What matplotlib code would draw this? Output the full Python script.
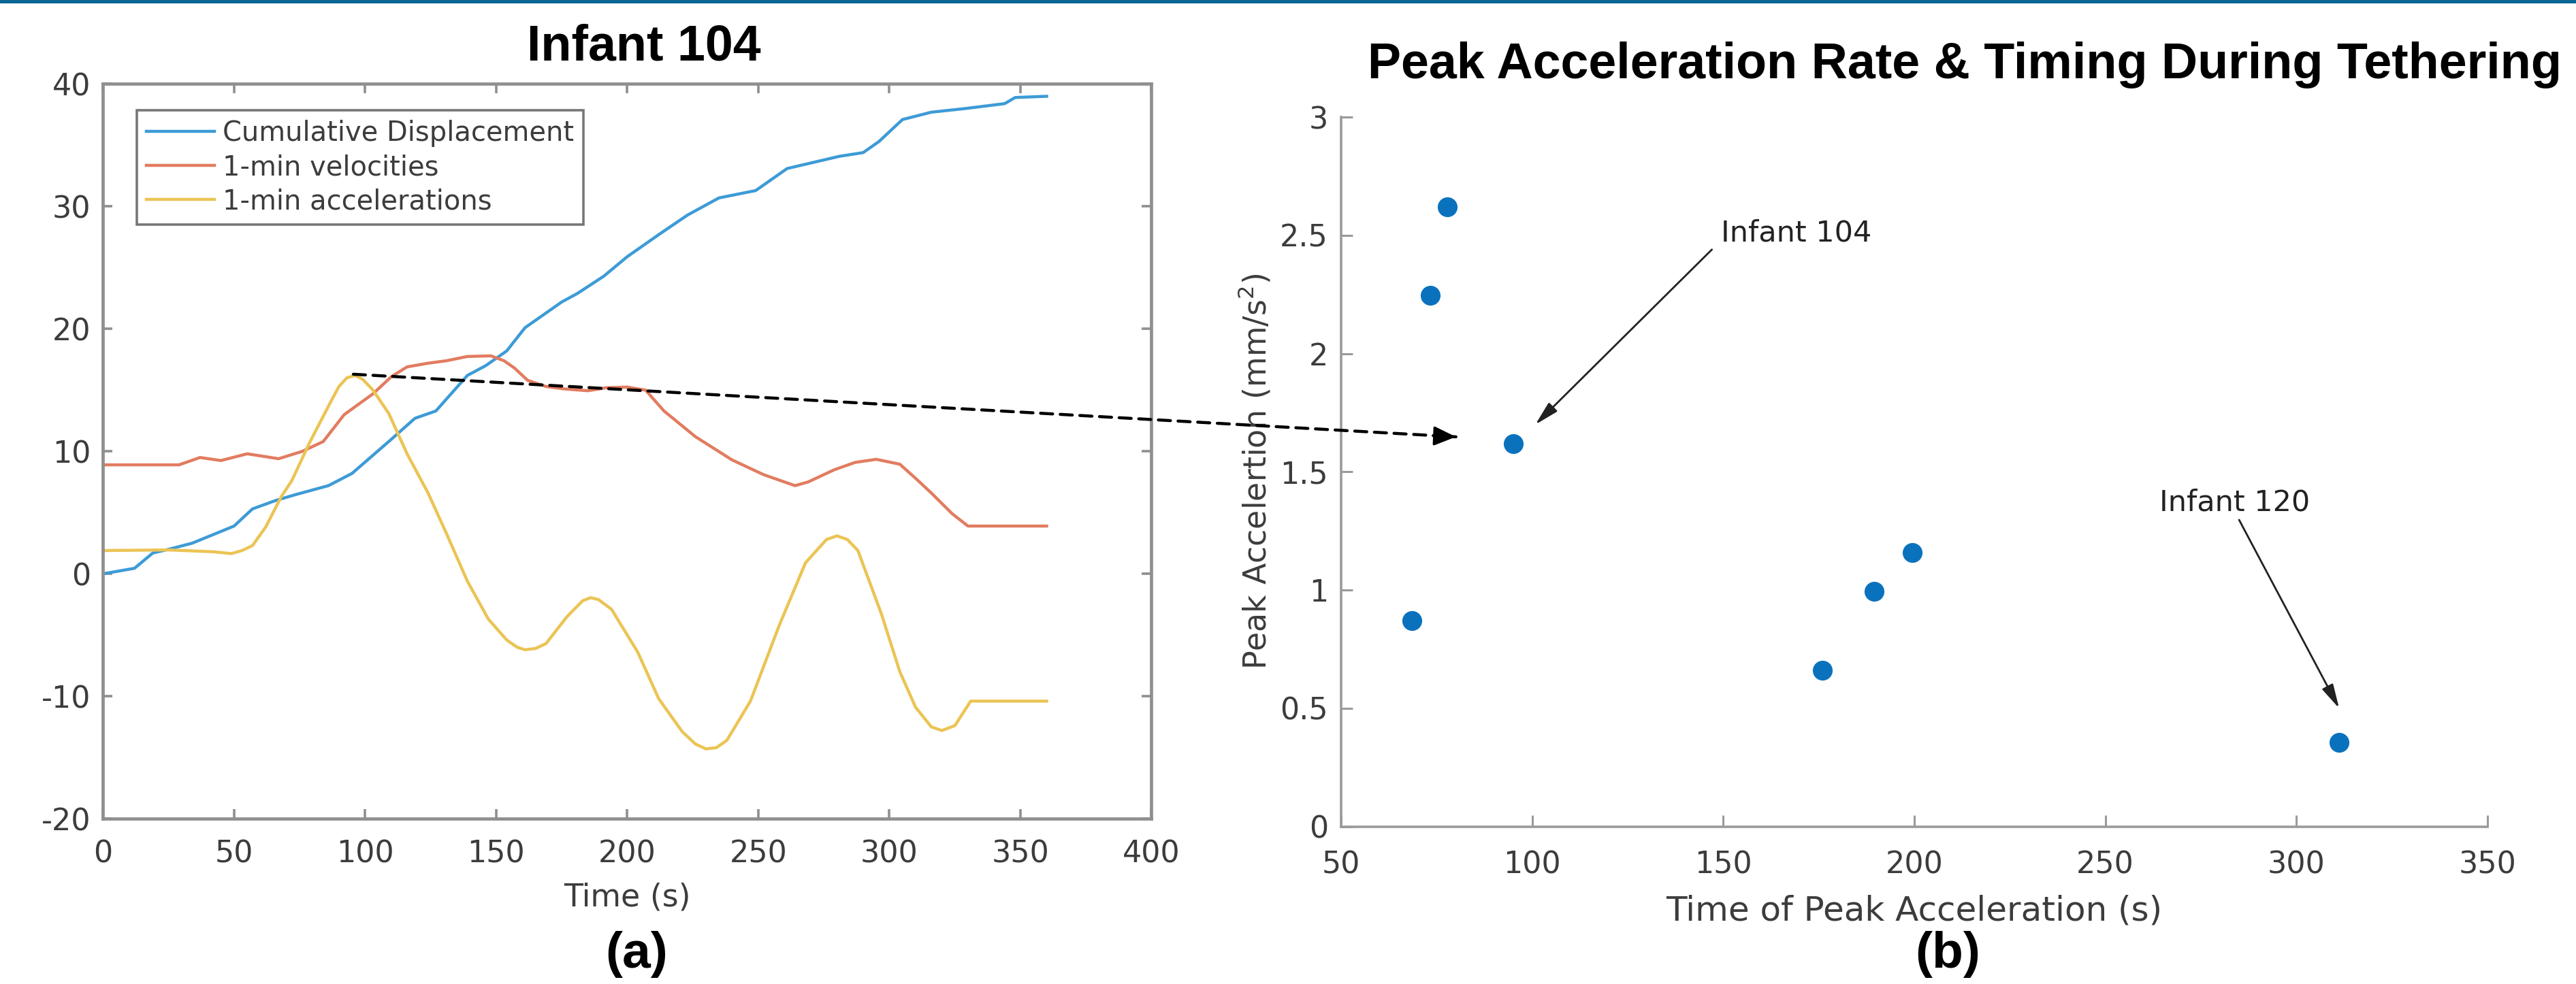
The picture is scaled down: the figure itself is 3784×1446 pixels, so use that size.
import matplotlib
matplotlib.use("Agg")
import matplotlib.pyplot as plt
from matplotlib.patches import ConnectionPatch, Rectangle

plt.rcParams["axes.unicode_minus"] = False

# ---- panel (a): Infant 104 time series ----
t_disp = [0, 12, 19, 25, 34, 42, 50, 57, 66, 74, 86, 95, 109, 119, 127, 139, 146,
          154, 161, 175, 181, 191, 200, 212, 223, 235, 249, 261, 269, 281, 290, 296,
          305, 316, 329, 344, 348, 360]
disp = [0.0, 0.45, 1.7, 2.0, 2.5, 3.2, 3.9, 5.3, 6.0, 6.5, 7.2, 8.2, 10.8, 12.7, 13.3,
        16.2, 17.0, 18.2, 20.1, 22.2, 22.9, 24.3, 25.9, 27.7, 29.3, 30.7, 31.3, 33.1,
        33.5, 34.1, 34.4, 35.3, 37.1, 37.7, 38.0, 38.4, 38.9, 39.0]

t_vel = [0, 29, 37, 45, 55, 67, 76, 84, 92, 103, 110, 116, 124, 131, 139, 148, 153,
         157, 162, 169, 176, 185, 192, 200, 207, 214, 226, 240, 252, 264, 269, 279,
         287, 295, 304, 310, 316, 324, 330, 360]
vel = [8.9, 8.9, 9.5, 9.25, 9.8, 9.4, 10.0, 10.8, 13.0, 14.7, 16.1, 16.9, 17.2, 17.4,
       17.75, 17.8, 17.4, 16.8, 15.8, 15.3, 15.1, 14.95, 15.2, 15.25, 15.0, 13.3, 11.2,
       9.3, 8.1, 7.2, 7.5, 8.5, 9.1, 9.35, 8.95, 7.8, 6.6, 4.9, 3.9, 3.9]

t_acc = [0, 25, 42, 49, 53, 57, 62, 68, 72, 79, 87, 90, 93, 96, 99, 103, 109, 116, 124,
         131, 139, 147, 154, 158, 161, 165, 169, 177, 183, 186, 189, 194, 204, 212, 221,
         226, 230, 234, 238, 247, 258, 268, 276, 280, 284, 288, 297, 304, 310, 316, 320,
         325, 331, 360]
acc = [1.9, 1.95, 1.8, 1.65, 1.9, 2.3, 3.8, 6.3, 7.6, 10.8, 14.1, 15.3, 16.0, 16.2,
       15.9, 15.0, 13.1, 9.8, 6.6, 3.3, -0.6, -3.7, -5.4, -6.0, -6.2, -6.1, -5.7, -3.5,
       -2.2, -1.95, -2.1, -2.9, -6.4, -10.2, -12.9, -13.9, -14.3, -14.2, -13.6, -10.4,
       -4.2, 0.9, 2.8, 3.1, 2.8, 1.9, -3.3, -8.0, -10.9, -12.5, -12.8, -12.4, -10.4, -10.4]

series_labels = ["Cumulative Displacement", "1-min velocities", "1-min accelerations"]

# ---- panel (b): peak acceleration per infant ----
peak_time = [68.5, 73.3, 77.7, 95.1, 176.0, 189.4, 199.5, 311.2]
peak_acc = [0.87, 2.245, 2.62, 1.62, 0.66, 0.995, 1.16, 0.357]

GRAY = "#8f8f8f"
TXT = "#3c3c3c"

fig = plt.figure(figsize=(18.92, 7.23), dpi=200)
fig.patch.set_facecolor("white")

# thin blue bar along the top edge
fig.add_artist(Rectangle((0, 1 - 5 / 1446), 1, 5 / 1446, transform=fig.transFigure,
                         color="#0b6696", lw=0))

# ---------------- left panel ----------------
ax1 = fig.add_axes([0.04, 0.168, 0.407, 0.7466])
ax1.plot(t_disp, disp, color="#3d9bd6", lw=1.6, label=series_labels[0])
ax1.plot(t_vel, vel, color="#e27c60", lw=1.6, label=series_labels[1])
ax1.plot(t_acc, acc, color="#ebc454", lw=1.6, label=series_labels[2])
ax1.set_xlim(0, 400)
ax1.set_ylim(-20, 40)
ax1.set_xticks(range(0, 401, 50))
ax1.set_yticks(range(-20, 41, 10))
for s in ax1.spines.values():
    s.set_color(GRAY)
    s.set_linewidth(1.7)
ax1.tick_params(axis="both", direction="in", length=5, width=1.3, color=GRAY,
                labelsize=16, labelcolor=TXT, top=True, right=True)
ax1.tick_params(axis="x", pad=11)
ax1.tick_params(axis="y", pad=6.5)
ax1.set_xlabel("Time (s)", fontsize=16.5, color=TXT, labelpad=7)
leg = ax1.legend(loc="upper left", bbox_to_anchor=(0.032, 0.964), borderaxespad=0,
                 fontsize=14.4, handlelength=2.5, handletextpad=0.3, labelspacing=0.25,
                 borderpad=0.35, fancybox=False, framealpha=1)
leg.get_frame().set_edgecolor("#777777")
leg.get_frame().set_linewidth(1.3)
for txt in leg.get_texts():
    txt.set_color(TXT)

# ---------------- right panel ----------------
ax2 = fig.add_axes([0.5207, 0.160, 0.4449, 0.721])
ax2.scatter(peak_time, peak_acc, s=110, color="#0a72bd", zorder=3, lw=0)
ax2.set_xlim(50, 350)
ax2.set_ylim(0, 3)
ax2.set_xticks(range(50, 351, 50))
ax2.set_yticks([0, 0.5, 1, 1.5, 2, 2.5, 3])
ax2.set_yticklabels(["0", "0.5", "1", "1.5", "2", "2.5", "3"])
ax2.spines["top"].set_visible(False)
ax2.spines["right"].set_visible(False)
for side in ("left", "bottom"):
    ax2.spines[side].set_color("#9a9a9a")
    ax2.spines[side].set_linewidth(1.3)
ax2.tick_params(axis="both", direction="in", length=6, width=1.1, color="#9a9a9a",
                labelsize=16, labelcolor=TXT)
ax2.tick_params(axis="x", pad=12.5)
ax2.tick_params(axis="y", pad=7)
ax2.set_xlabel("Time of Peak Acceleration (s)", fontsize=18, color=TXT, labelpad=8)
ax2.set_ylabel("Peak Accelertion (mm/s$^2$)", fontsize=16.5, color=TXT, labelpad=4)

arrow_style = "-|>,head_length=0.6,head_width=0.15"
ax2.text(149.4, 2.51, "Infant 104", fontsize=15.5, color="#222222", ha="left", va="center")
ax2.annotate("", xy=(100.8, 1.70), xytext=(147.0, 2.44),
             arrowprops=dict(arrowstyle=arrow_style, color="#222222", lw=1.0,
                             mutation_scale=18, shrinkA=0, shrinkB=0))
ax2.text(264.2, 1.37, "Infant 120", fontsize=15.5, color="#222222", ha="left", va="center")
ax2.annotate("", xy=(311.2, 0.50), xytext=(285.0, 1.297),
             arrowprops=dict(arrowstyle=arrow_style, color="#222222", lw=1.0,
                             mutation_scale=18, shrinkA=0, shrinkB=0))

# dashed link from the acceleration peak in (a) to the Infant 104 point in (b)
con = ConnectionPatch(xyA=(95.5, 16.3), coordsA=ax1.transData,
                      xyB=(80.0, 1.648), coordsB=ax2.transData,
                      arrowstyle="-", linestyle=(0, (4, 2.5)), lw=1.6, color="black",
                      shrinkA=0, shrinkB=0, zorder=5)
fig.add_artist(con)
con_head = ConnectionPatch(xyA=(74.0, 1.652), coordsA=ax2.transData,
                           xyB=(80.0, 1.648), coordsB=ax2.transData,
                           arrowstyle="-|>,head_length=0.5,head_width=0.22", lw=1.2,
                           color="black", mutation_scale=20, shrinkA=0, shrinkB=0, zorder=5)
fig.add_artist(con_head)

# titles and panel labels
title_font = dict(family="Liberation Sans", weight="bold", color="black")
fig.text(0.25, 0.952, "Infant 104", fontsize=26.5, ha="center", va="center", **title_font)
fig.text(0.7627, 0.934, "Peak Acceleration Rate & Timing During Tethering", fontsize=26.5,
         ha="center", va="center", **title_font)
fig.text(0.247, 0.03, "(a)", fontsize=27, ha="center", va="center", **title_font)
fig.text(0.756, 0.03, "(b)", fontsize=27, ha="center", va="center", **title_font)

fig.savefig("out.png", dpi=200, facecolor="white")
